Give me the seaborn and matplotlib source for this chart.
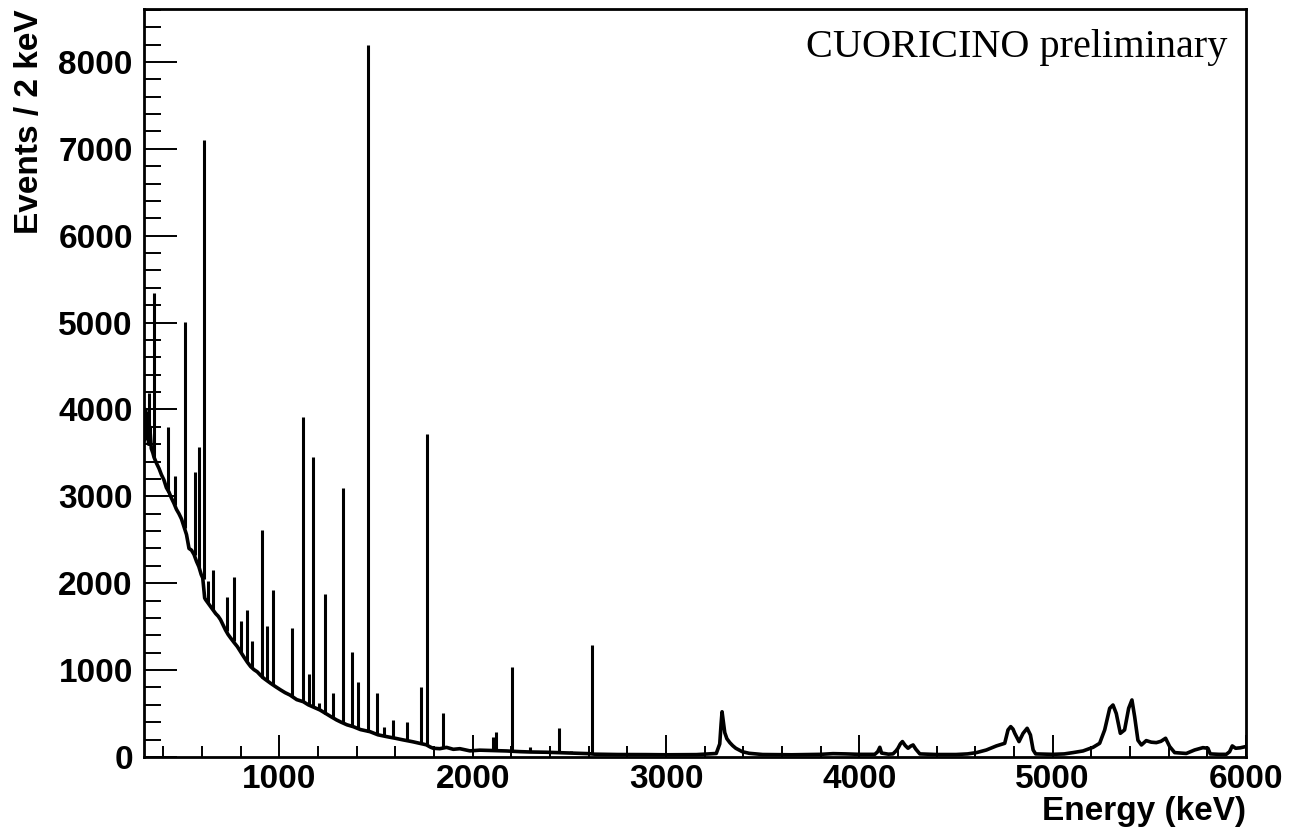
import numpy as np
import pandas as pd
import matplotlib
matplotlib.use("Agg")
import matplotlib.pyplot as plt
import seaborn as sns
from matplotlib.ticker import MultipleLocator

# continuum of the spectrum (keV, events / 2 keV)
cont_energy = [300, 304, 308, 312, 318, 324, 330, 338, 346, 352, 365, 378, 390, 403, 416, 429,
               442, 455, 468, 481, 494, 507, 520, 533, 546, 559, 572, 584, 596, 604, 614, 619,
               632, 645, 658, 671, 684, 696, 709, 722, 735, 748, 765, 783, 800, 817, 835, 852,
               869, 886, 903, 920, 938, 955, 980, 1007, 1030, 1055, 1090, 1124, 1150, 1180,
               1210, 1240, 1270, 1296, 1320, 1350, 1382, 1420, 1469, 1510, 1555, 1600, 1641,
               1690, 1727, 1760, 1780, 1796, 1830, 1865, 1900, 1934, 1986, 2037, 2090, 2140,
               2175, 2244, 2300, 2382, 2460, 2554, 2600, 2630, 2658, 2750, 2899, 3000, 3158,
               3260, 3278, 3285, 3290, 3296, 3304, 3315, 3330, 3345, 3361, 3395, 3430, 3500,
               3650, 3800, 3864, 3930, 4000, 4080, 4095, 4106, 4115, 4150, 4174, 4190, 4200,
               4212, 4223, 4238, 4252, 4266, 4278, 4292, 4313, 4400, 4500, 4560, 4606, 4657,
               4709, 4752, 4769, 4783, 4795, 4804, 4826, 4847, 4868, 4885, 4899, 4912, 5000,
               5060, 5105, 5157, 5209, 5243, 5269, 5295, 5312, 5329, 5350, 5372, 5393, 5410,
               5424, 5441, 5459, 5484, 5510, 5536, 5560, 5584, 5605, 5631, 5691, 5734, 5777,
               5803, 5815, 5860, 5898, 5915, 5929, 5946, 5970, 6000]
cont_counts = [3900, 3650, 4000, 3700, 3950, 3600, 3800, 3550, 3500, 3450, 3380, 3320, 3250, 3190,
               3100, 3050, 2980, 2920, 2850, 2800, 2740, 2650, 2560, 2400, 2380, 2330, 2250, 2190,
               2100, 2060, 1830, 1810, 1770, 1730, 1690, 1650, 1620, 1580, 1520, 1460, 1410, 1370,
               1320, 1270, 1210, 1150, 1090, 1040, 1005, 980, 940, 905, 875, 848, 810, 771, 740,
               713, 660, 636, 600, 570, 541, 500, 460, 426, 400, 370, 349, 315, 291, 255, 234, 215,
               196, 175, 157, 140, 115, 100, 95, 110, 88, 95, 70, 78, 75, 72, 69, 61, 57, 54, 48,
               42, 38, 32, 31, 28, 27, 25, 27, 40, 150, 380, 520, 420, 280, 210, 165, 130, 100, 60,
               42, 28, 25, 30, 38, 35, 30, 30, 60, 111, 45, 32, 35, 70, 100, 150, 177, 130, 100,
               125, 138, 90, 35, 28, 28, 35, 50, 80, 127, 157, 311, 349, 320, 272, 177, 272, 330,
               253, 80, 35, 30, 35, 50, 69, 111, 157, 311, 560, 598, 500, 272, 311, 560, 656, 464,
               192, 138, 188, 170, 165, 180, 215, 120, 50, 40, 80, 107, 100, 35, 30, 30, 60, 127,
               100, 105, 120]

# narrow gamma lines: energy, top of the line, level of the continuum under it
line_energy = [328, 352, 426, 462, 511, 564, 583, 609, 633, 659, 728, 768, 800, 834, 857, 911,
               934, 969, 1064, 1120, 1155, 1173, 1207, 1238, 1280, 1332, 1377, 1408, 1461, 1507,
               1543, 1586, 1662, 1731, 1764, 1847, 2103, 2119, 2204, 2296, 2447, 2508, 2615]
line_top = [4190, 5340, 3800, 3230, 5010, 3280, 3570, 7100, 2020, 2150, 1840, 2075, 1570, 1690,
            1340, 2610, 1510, 1920, 1480, 3910, 960, 3450, 620, 1880, 740, 3100, 1210, 865, 8200,
            740, 350, 426, 400, 810, 3720, 503, 231, 291, 1030, 119, 330, 67, 1285]
line_base = [3750, 3450, 3050, 2900, 2640, 2320, 2180, 2050, 1770, 1690, 1450, 1330, 1210, 1100,
             1040, 905, 875, 830, 705, 636, 600, 575, 541, 500, 455, 400, 349, 320, 291, 255,
             240, 220, 190, 157, 145, 110, 75, 75, 69, 57, 48, 45, 35]

sns.set_style("white")
plt.rcParams["font.family"] = ["Liberation Sans", "DejaVu Sans"]
plt.rcParams["font.weight"] = "bold"
plt.rcParams["text.color"] = "black"
plt.rcParams["xtick.color"] = "black"
plt.rcParams["ytick.color"] = "black"

fig = plt.figure(figsize=(12.9, 8.39), dpi=100)
ax = fig.add_axes([0.1116, 0.0978, 0.8543, 0.8915])

spec = pd.DataFrame({"energy": cont_energy, "counts": cont_counts})
sns.lineplot(data=spec, x="energy", y="counts", ax=ax, color="black", lw=2.6,
             estimator=None, sort=False)
ax.vlines(line_energy, line_base, line_top, color="black", lw=2.2)

ax.set_xlim(300, 6000)
ax.set_ylim(0, 8610)
ax.set_xlabel("")
ax.set_ylabel("")

ax.xaxis.set_major_locator(MultipleLocator(1000))
ax.xaxis.set_minor_locator(MultipleLocator(200))
ax.yaxis.set_major_locator(MultipleLocator(1000))
ax.yaxis.set_minor_locator(MultipleLocator(200))
ax.tick_params(axis="both", which="both", direction="in", bottom=True, left=True,
               top=False, right=False, width=1.4, color="black", labelcolor="black",
               labelsize=24)
ax.tick_params(axis="y", which="major", length=24, pad=8)
ax.tick_params(axis="y", which="minor", length=12)
ax.tick_params(axis="x", which="major", length=16, pad=5)
ax.tick_params(axis="x", which="minor", length=8)
for lab in ax.get_xticklabels() + ax.get_yticklabels():
    lab.set_fontweight("bold")
for sp in ax.spines.values():
    sp.set_linewidth(2.0)
    sp.set_color("black")

ax.text(1.0, -0.052, "Energy (keV)", transform=ax.transAxes, ha="right", va="top",
        fontsize=24, fontweight="bold", color="black")
ax.text(-0.104, 1.0, "Events / 2 keV", transform=ax.transAxes, rotation=90,
        ha="center", va="top", fontsize=24, fontweight="bold", color="black")
ax.text(0.9828, 0.936, "CUORICINO preliminary", transform=ax.transAxes, ha="right",
        va="baseline", fontsize=29, fontweight="normal", color="black",
        family=["Liberation Serif", "DejaVu Serif"])

fig.savefig("out.png", dpi=100)
